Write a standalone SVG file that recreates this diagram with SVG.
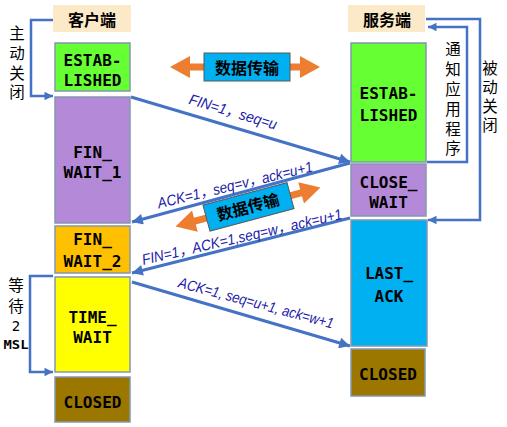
<svg xmlns="http://www.w3.org/2000/svg" width="507" height="427" viewBox="0 0 507 427">
<defs>
<style>
.box{stroke:#8497B0;stroke-width:1.5}
.st{font-family:"DejaVu Sans Mono","Liberation Mono",monospace;font-weight:bold;font-size:16px;fill:#000;text-anchor:middle}
.cn{font-family:"Noto Sans CJK SC","Noto Sans",sans-serif;font-size:15.5px;fill:#000;text-anchor:middle}
.cnb{font-family:"Noto Sans CJK SC","Noto Sans",sans-serif;font-weight:bold;font-size:16px;fill:#000;text-anchor:middle}
.lbl{font-family:"Liberation Sans","Noto Sans CJK SC",sans-serif;font-style:italic;font-size:15px;fill:#2020A8;text-anchor:middle}
.msg{fill:none;stroke:#4472C4;stroke-width:3}
.brk{fill:none;stroke:#4472C4;stroke-width:2.5}
.orange{fill:#ED7D31}
.dt{fill:#00B0F0;stroke:#595959;stroke-width:1}
</style>
<marker id="ah" viewBox="0 0 10 10" refX="10" refY="5" markerWidth="5" markerHeight="3.6" orient="auto" markerUnits="strokeWidth">
<path d="M0,0 L10,5 L0,10 z" fill="#4472C4"/>
</marker>
<marker id="ahs" viewBox="0 0 10 10" refX="10" refY="5" markerWidth="4" markerHeight="3.4" orient="auto" markerUnits="strokeWidth">
<path d="M0,0 L10,5 L0,10 z" fill="#4472C4"/>
</marker>
<path id="dbl" d="M-75,0 L-55,-11 L-55,-3.5 L55,-3.5 L55,-11 L75,0 L55,11 L55,3.5 L-55,3.5 L-55,11 z"/>
</defs>
<rect width="507" height="427" fill="#fff"/>

<g id="connectors">
<line class="msg" x1="131" y1="97" x2="350" y2="162" marker-end="url(#ah)"/>
<line class="msg" x1="350" y1="163" x2="132" y2="222" marker-end="url(#ah)"/>
<line class="msg" x1="350" y1="218" x2="132" y2="273" marker-end="url(#ah)"/>
<line class="msg" x1="132" y1="282" x2="350" y2="346" marker-end="url(#ah)"/>
<polyline class="brk" points="53,20 31,20 31,96 53,96" marker-end="url(#ahs)"/>
<polyline class="brk" points="53,276 30,276 30,372 53,372" marker-end="url(#ahs)"/>
<polyline class="brk" points="426,19 480,19 480,220 428,220" marker-end="url(#ahs)"/>
<polyline class="brk" points="427,162 467,162 467,27 428,27" marker-end="url(#ahs)"/>
<text class="lbl" transform="translate(233,112) rotate(16.6)" y="5" textLength="91" lengthAdjust="spacingAndGlyphs">FIN=1，seq=u</text>
<text class="lbl" transform="translate(235,185) rotate(-13.5)" y="5" textLength="159" lengthAdjust="spacingAndGlyphs">ACK=1，seq=v，ack=u+1</text>
<text class="lbl" transform="translate(242,237) rotate(-13)" y="5" textLength="205" lengthAdjust="spacingAndGlyphs">FIN=1，ACK=1,seq=w，ack=u+1</text>
<text class="lbl" transform="translate(256,303) rotate(15)" y="5" textLength="160" lengthAdjust="spacingAndGlyphs">ACK=1, seq=u+1, ack=w+1</text>
<text class="cn" x="17"><tspan x="17" y="39">主</tspan><tspan x="17" y="59">动</tspan><tspan x="17" y="79">关</tspan><tspan x="17" y="98">闭</tspan></text>
<text class="cn" x="16"><tspan x="16" y="291">等</tspan><tspan x="16" y="312">待</tspan></text>
<text class="st" x="16" y="331" style="font-size:14px;font-weight:normal">2</text>
<text class="st" x="16" y="349" style="font-size:13px" textLength="25" lengthAdjust="spacingAndGlyphs">MSL</text>
<text class="cn" x="453"><tspan x="453" y="55">通</tspan><tspan x="453" y="75">知</tspan><tspan x="453" y="95">应</tspan><tspan x="453" y="115">用</tspan><tspan x="453" y="135">程</tspan><tspan x="453" y="154">序</tspan></text>
<text class="cn" x="490"><tspan x="490" y="74">被</tspan><tspan x="490" y="93">动</tspan><tspan x="490" y="112">关</tspan><tspan x="490" y="131">闭</tspan></text>
</g>

<g id="data1">
<use href="#dbl" class="orange" transform="translate(245,67)"/>
<rect class="dt" x="204" y="53" width="86" height="28"/>
<text class="cnb" x="247" y="74">数据传输</text>
</g>
<g id="data2" transform="translate(248,207) rotate(-15)">
<use href="#dbl" class="orange"/>
<rect class="dt" x="-43" y="-13.5" width="87" height="27"/>
<text class="cnb" x="0" y="6">数据传输</text>
</g>

<g id="client">
<rect x="53" y="5" width="78" height="27" fill="#FCE9C7"/>
<text class="cnb" x="92" y="26">客户端</text>
</g>
<g id="server">
<rect x="348" y="5" width="77" height="27" fill="#FCE9C7"/>
<text class="cnb" x="387" y="26">服务端</text>
</g>

<g id="c-established">
<rect class="box" x="55" y="43" width="75" height="48" fill="#66FF33"/>
<text class="st" x="92.5" y="66">ESTAB-</text>
<text class="st" x="92.5" y="86">LISHED</text>
</g>
<g id="c-fin-wait-1">
<rect class="box" x="55" y="97" width="75" height="126" fill="#B48AD8"/>
<text class="st" x="92.5" y="158">FIN_</text>
<text class="st" x="92.5" y="178">WAIT_1</text>
</g>
<g id="c-fin-wait-2">
<rect class="box" x="55" y="226" width="75" height="47" fill="#FFC000"/>
<text class="st" x="92.5" y="245">FIN_</text>
<text class="st" x="92.5" y="267">WAIT_2</text>
</g>
<g id="c-time-wait">
<rect class="box" x="55" y="277" width="75" height="95" fill="#FFFF00"/>
<text class="st" x="92.5" y="323">TIME_</text>
<text class="st" x="92.5" y="343">WAIT</text>
</g>
<g id="c-closed">
<rect class="box" x="55" y="377" width="75" height="45" fill="#9C7700"/>
<text class="st" x="92.5" y="408">CLOSED</text>
</g>

<g id="s-established">
<rect class="box" x="351" y="43" width="75" height="119" fill="#66FF33"/>
<text class="st" x="388.5" y="99">ESTAB-</text>
<text class="st" x="388.5" y="121">LISHED</text>
</g>
<g id="s-close-wait">
<rect class="box" x="351" y="164" width="75" height="52" fill="#B48AD8"/>
<text class="st" x="388.5" y="188">CLOSE_</text>
<text class="st" x="388.5" y="208">WAIT</text>
</g>
<g id="s-last-ack">
<rect class="box" x="351" y="220" width="76" height="126" fill="#00B0F0"/>
<text class="st" x="389" y="279">LAST_</text>
<text class="st" x="389" y="302">ACK</text>
</g>
<g id="s-closed">
<rect class="box" x="351" y="349" width="74" height="47" fill="#9C7700"/>
<text class="st" x="388" y="380">CLOSED</text>
</g>
</svg>
